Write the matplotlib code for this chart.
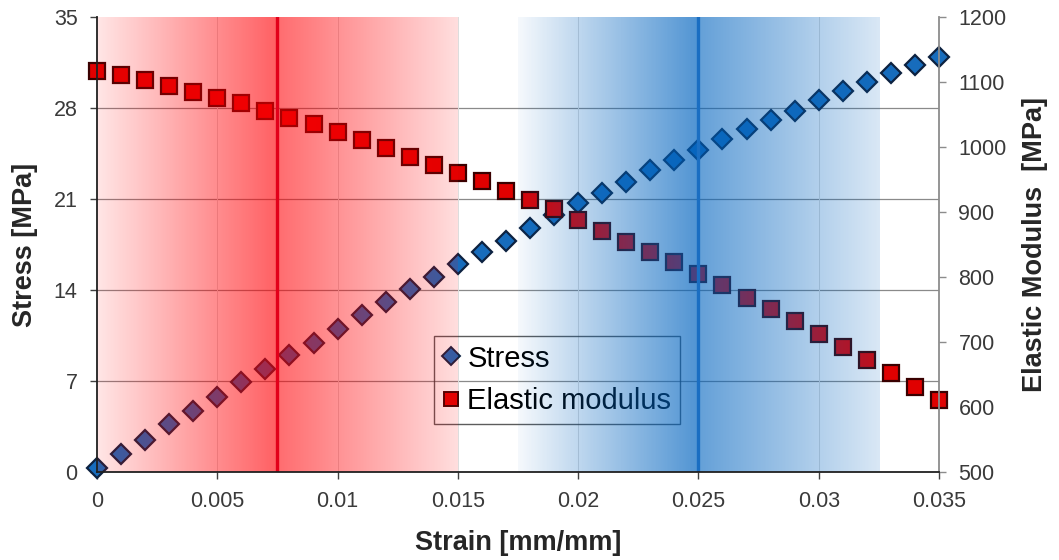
import numpy as np
import matplotlib
matplotlib.use("Agg")
import matplotlib.pyplot as plt
from matplotlib.lines import Line2D

plt.rcParams['font.family'] = ['Liberation Sans', 'DejaVu Sans']

# Strain [mm/mm]
strain = [0.000, 0.001, 0.002, 0.003, 0.004, 0.005, 0.006, 0.007, 0.008,
          0.009, 0.010, 0.011, 0.012, 0.013, 0.014, 0.015, 0.016, 0.017,
          0.018, 0.019, 0.020, 0.021, 0.022, 0.023, 0.024, 0.025, 0.026,
          0.027, 0.028, 0.029, 0.030, 0.031, 0.032, 0.033, 0.034, 0.035]

# Stress [MPa]
stress = [0.3, 1.4, 2.5, 3.7, 4.7, 5.8, 6.9, 7.9, 9.0,
          9.9, 11.0, 12.1, 13.1, 14.1, 15.0, 16.0, 16.9, 17.8,
          18.8, 19.8, 20.7, 21.5, 22.3, 23.2, 24.0, 24.8, 25.6,
          26.4, 27.1, 27.8, 28.6, 29.3, 30.0, 30.7, 31.3, 31.9]

# Elastic modulus [MPa]
modulus = [1117, 1111, 1103, 1094, 1084, 1076, 1067, 1055, 1045,
           1035, 1023, 1011, 999, 985, 973, 960, 948, 932,
           918, 905, 888, 871, 854, 839, 823, 804, 788,
           768, 751, 732, 712, 693, 672, 652, 631, 611]

x_ticks = [0, 0.005, 0.01, 0.015, 0.02, 0.025, 0.03, 0.035]
x_tick_labels = ['0', '0.005', '0.01', '0.015', '0.02', '0.025', '0.03', '0.035']
stress_ticks = [0, 7, 14, 21, 28, 35]
modulus_ticks = [500, 600, 700, 800, 900, 1000, 1100, 1200]

# Highlighted strain windows: (start, centre, end)
red_window = (0.0, 0.0075, 0.015)
blue_window = (0.0175, 0.025, 0.0325)

STRESS_BLUE = '#176cbc'
MODULUS_RED = '#e00000'
TICK_COLOR = '#3a3a3a'

fig = plt.figure(figsize=(10.59, 5.60), dpi=100)
ax = fig.add_axes([97 / 1059, 88 / 560, 842 / 1059, 455 / 560])
ax2 = ax.twinx()

# grid on the stress axis
ax.set_axisbelow(True)
for v in stress_ticks[1:-1]:
    ax.axhline(v, color='#8a8a8a', lw=0.9, zorder=0.5)
for v in x_ticks[1:-1]:
    ax.axvline(v, color='#dcdcdc', lw=0.7, zorder=0.5)

ax.plot(strain, stress, linestyle='none', marker='D', ms=10.5,
        mfc=STRESS_BLUE, mec='#0d2240', mew=1.6, clip_on=False, zorder=3)
ax2.plot(strain, modulus, linestyle='none', marker='s', ms=11.5,
         mfc=MODULUS_RED, mec='#3a0000', mew=1.6, clip_on=False, zorder=3)

ax.set_xlim(0, 0.035)
ax.set_ylim(0, 35)
ax2.set_ylim(500, 1200)

# gradient bands laid over the data
n = 1400
xs = np.linspace(0, 0.035, n)
rgba = np.zeros((2, n, 4))


def fill_band(window, rgb, a_lo, a_peak_l, a_peak_r, a_hi):
    lo, c, hi = window
    left = (xs >= lo) & (xs < c)
    right = (xs >= c) & (xs <= hi)
    alpha = np.zeros(n)
    alpha[left] = a_lo + (a_peak_l - a_lo) * (xs[left] - lo) / (c - lo)
    alpha[right] = a_peak_r + (a_hi - a_peak_r) * (xs[right] - c) / (hi - c)
    mask = left | right
    rgba[:, mask, 0] = rgb[0]
    rgba[:, mask, 1] = rgb[1]
    rgba[:, mask, 2] = rgb[2]
    rgba[:, mask, 3] = alpha[mask]


fill_band(red_window, (1.0, 0.0, 0.02), 0.10, 0.63, 0.58, 0.13)
fill_band(blue_window, (0.0, 0.39, 0.75), 0.04, 0.69, 0.61, 0.15)

ax2.imshow(rgba, extent=(0, 0.035, 500, 1200), aspect='auto',
           interpolation='nearest', origin='lower', zorder=6)
ax2.axvline(red_window[1], color='#e3001a', lw=2.4, zorder=7)
ax2.axvline(blue_window[1], color='#1a6ec2', lw=2.4, zorder=7)
ax2.set_xlim(0, 0.035)
ax2.set_ylim(500, 1200)

# spines
for s in ['top', 'right', 'left', 'bottom']:
    ax.spines[s].set_visible(False)
ax2.spines['top'].set_visible(False)
ax2.spines['left'].set_color('#202020')
ax2.spines['bottom'].set_color('#202020')
ax2.spines['right'].set_color('#8c8c8c')
for s in ['left', 'bottom', 'right']:
    ax2.spines[s].set_linewidth(1.3)
    ax2.spines[s].set_zorder(8)

ax.set_xticks(x_ticks)
ax.set_xticklabels(x_tick_labels)
ax.set_yticks(stress_ticks)
ax2.set_yticks(modulus_ticks)

ax.tick_params(axis='both', direction='out', length=5, width=1,
               color='#404040', labelsize=15.5, labelcolor=TICK_COLOR, pad=9)
ax2.tick_params(axis='y', direction='out', length=5, width=1,
                color='#8c8c8c', labelsize=15.5, labelcolor=TICK_COLOR, pad=9)

label_kw = dict(fontsize=19.5, fontweight='bold', color='#262626')
ax.set_xlabel('Strain [mm/mm]', va='center', **label_kw)
ax.set_ylabel('Stress [MPa]', va='center', ha='center', **label_kw)
ax2.set_ylabel('Elastic Modulus  [MPa]', va='center', ha='center', **label_kw)
ax.xaxis.set_label_coords(0.5, -0.156)
ax.yaxis.set_label_coords(-0.086, 0.5)
ax2.yaxis.set_label_coords(1.114, 0.5)

handles = [
    Line2D([], [], linestyle='none', marker='D', ms=9, mfc=STRESS_BLUE,
           mec='#0d2240', mew=1.4),
    Line2D([], [], linestyle='none', marker='s', ms=10, mfc=MODULUS_RED,
           mec='#3a0000', mew=1.4),
]
leg = ax2.legend(handles, ['Stress', 'Elastic modulus'], loc='upper left',
                 bbox_to_anchor=(0.400, 0.299), borderaxespad=0,
                 fontsize=21, frameon=True, fancybox=False,
                 handlelength=0.6, handletextpad=0.25, borderpad=0.3,
                 labelspacing=0.5)
leg.get_frame().set_edgecolor('#333333')
leg.get_frame().set_facecolor('none')
leg.get_frame().set_linewidth(1.0)
leg.set_zorder(5)

fig.savefig('out.png', dpi=100)
